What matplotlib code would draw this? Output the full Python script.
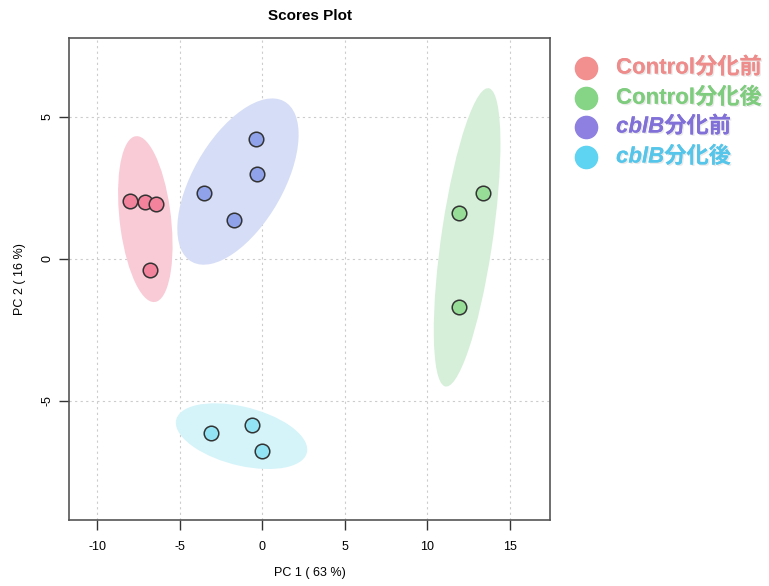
import numpy as np
import matplotlib
matplotlib.use("Agg")
import matplotlib.pyplot as plt
from matplotlib.patches import Ellipse
from matplotlib.lines import Line2D
import matplotlib.patheffects as pe

# ---- data ----
groups = ["Control分化前", "Control分化後", "cblB分化前", "cblB分化後"]
pc1_ctrl_pre = [-8.0, -7.09, -6.42, -6.79]
pc2_ctrl_pre = [2.04, 2.01, 1.94, -0.39]
pc1_ctrl_post = [13.38, 11.94, 11.96]
pc2_ctrl_post = [2.33, 1.63, -1.69]
pc1_cbl_pre = [-0.36, -0.30, -3.50, -1.68]
pc2_cbl_pre = [4.21, 2.99, 2.33, 1.36]
pc1_cbl_post = [-3.09, -0.62, -0.02]
pc2_cbl_post = [-6.12, -5.85, -6.77]
x_ticks = [-10, -5, 0, 5, 10, 15]
y_ticks = [-5, 0, 5]

pt_colors = ["#F3839C", "#97DC97", "#8FA2EA", "#92E4F4"]
ell_colors = ["#F9CBD6", "#D6EFD9", "#D6DDF6", "#D4F4FA"]
leg_colors = ["#F28F8F", "#86D486", "#8E80E0", "#5FD3F2"]
txt_colors = ["#EE8C8C", "#7FCC7F", "#8070D8", "#55C6EA"]

data = [(pc1_ctrl_pre, pc2_ctrl_pre), (pc1_ctrl_post, pc2_ctrl_post),
        (pc1_cbl_pre, pc2_cbl_pre), (pc1_cbl_post, pc2_cbl_post)]

plt.rcParams['font.family'] = ['Liberation Sans', 'DejaVu Sans']

fig = plt.figure(figsize=(7.69, 5.86), dpi=100)
ax = fig.add_axes([69/769, 1-520/586, (550-69)/769, (520-38)/586])

t95 = np.sqrt(-2*np.log(0.05))
for (xs, ys), ec in zip(data, ell_colors):
    xs = np.array(xs); ys = np.array(ys)
    cov = np.cov(xs, ys)
    vals, vecs = np.linalg.eigh(cov)
    order = vals.argsort()[::-1]
    vals = vals[order]; vecs = vecs[:, order]
    ang = np.degrees(np.arctan2(vecs[1, 0], vecs[0, 0]))
    e = Ellipse((xs.mean(), ys.mean()), 2*t95*np.sqrt(vals[0]), 2*t95*np.sqrt(vals[1]),
                angle=ang, facecolor=ec, edgecolor='none', zorder=1)
    ax.add_patch(e)

for (xs, ys), pc in zip(data, pt_colors):
    ax.scatter(xs, ys, s=110, c=pc, edgecolors='#333333', linewidths=1.1, zorder=3)

ax.set_xlim(-11.7, 17.45)
ax.set_ylim(-9.2, 7.78)
ax.set_xticks(x_ticks)
ax.set_yticks(y_ticks)
ax.set_xticklabels([str(v) for v in x_ticks], fontsize=9)
ax.set_yticklabels([str(v) for v in y_ticks], fontsize=9, rotation=90, va='center')
ax.grid(True, linestyle=(0, (2, 3)), color='#CCCCCC', linewidth=0.8, zorder=0)
ax.set_axisbelow(True)
for s in ax.spines.values():
    s.set_color('#555555')
    s.set_linewidth(1.2)
ax.tick_params(direction='out', length=7, width=1, color='#333333')
ax.tick_params(axis='x', pad=8)
ax.tick_params(axis='y', pad=4)
ax.set_xlabel("PC 1 ( 63 %)", fontsize=9, labelpad=10)
ax.set_ylabel("PC 2 ( 16 %)", fontsize=9, labelpad=11)
ax.set_title("Scores Plot", fontsize=11, fontweight='bold', pad=13)

# ---- legend ----
rows_y = [68, 98, 127, 157]
fam = ['Liberation Sans', 'Noto Sans CJK JP']
fig.canvas.draw()
renderer = fig.canvas.get_renderer()
for lab, yy, lc, tc in zip(groups, rows_y, leg_colors, txt_colors):
    fy = 1 - yy/586
    fig.add_artist(Line2D([586/769], [fy], marker='o', markersize=16, color=lc,
                          markeredgecolor=lc, transform=fig.transFigure, linestyle='none'))
    sh = [pe.withSimplePatchShadow(offset=(1, -1), shadow_rgbFace='#aaaaaa', alpha=0.25), pe.Normal()]
    if lab.startswith("cblB"):
        t1 = fig.text(616/769, fy, "cblB", fontsize=16, fontweight='bold', style='italic',
                      color=tc, va='center', ha='left', family=fam, path_effects=sh)
        bb = t1.get_window_extent(renderer)
        fig.text(bb.x1/769, fy, lab[4:], fontsize=16, fontweight='bold', color=tc,
                 va='center', ha='left', family=fam, path_effects=sh)
    else:
        fig.text(616/769, fy, lab, fontsize=16, fontweight='bold', color=tc,
                 va='center', ha='left', family=fam, path_effects=sh)

fig.savefig("out.png", dpi=100)
